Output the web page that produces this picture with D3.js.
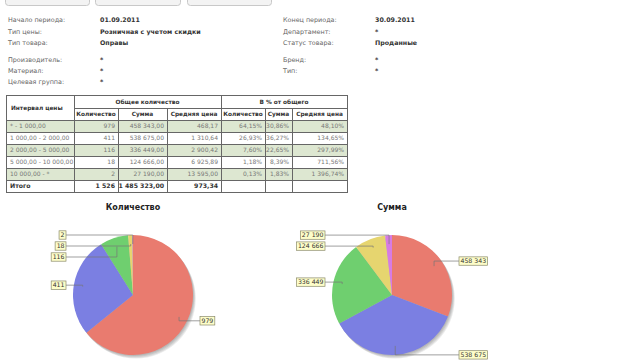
<!DOCTYPE html>
<html>
<head>
<meta charset="utf-8">
<script src="https://cdn.jsdelivr.net/npm/d3@7"></script>
<style>
  body { margin: 0; background: #fff; }
  svg { display: block; font-family: "DejaVu Sans", Verdana, sans-serif; }
</style>
</head>
<body>
<div id="chart"></div>
<script>
// report parameters
const leftLabels = ['Начало периода:', 'Тип цены:', 'Тип товара:', 'Производитель:', 'Материал:', 'Целевая группа:'];
const leftValues = ['01.09.2011', 'Розничная с учетом скидки', 'Оправы', '*', '*', '*'];
const rightLabels = ['Конец периода:', 'Департамент:', 'Статус товара:', 'Бренд:', 'Тип:'];
const rightValues = ['30.09.2011', '*', 'Проданные', '*', '*'];

// table data
const intervals = ['* - 1 000,00', '1 000,00 - 2 000,00', '2 000,00 - 5 000,00', '5 000,00 - 10 000,00', '10 000,00 - *'];
const qty = [979, 411, 116, 18, 2];
const sums = [458343, 538675, 336449, 124666, 27190];
const avgPrice = [468.17, 1310.64, 2900.42, 6925.89, 13595.00];
const pctQty = [64.15, 26.93, 7.60, 1.18, 0.13];
const pctSum = [30.86, 36.27, 22.65, 8.39, 1.83];
const pctAvg = [48.10, 134.65, 297.99, 711.56, 1396.74];
const totalQty = 1526;
const totalSum = 1485323;
const totalAvg = 973.34;

const sliceColors = ['#e97b6f', '#7b7fe2', '#6fcf6f', '#e6d56f', '#d77be3'];

const ru = d3.formatLocale({ decimal: ',', thousands: '\u00a0', grouping: [3], currency: ['', ''] });
const fInt = ru.format(',d');
const fMoney = ru.format(',.2f');
const fPct = v => ru.format(',.2f')(v) + '%';

const svg = d3.select('#chart').append('svg')
    .attr('width', 640)
    .attr('height', 360);

// buttons at top (cut off)
[[5, 89], [95, 180], [187, 271]].forEach(b => {
    svg.append('rect')
        .attr('x', b[0] + 0.5).attr('y', -10.5)
        .attr('width', b[1] - b[0]).attr('height', 16)
        .attr('rx', 3)
        .style('fill', '#f3f3f3')
        .style('stroke', '#c8c8c8');
});

// header block
const rowY = [20, 31.5, 42.5, 60, 71, 82];
function paramBlock(labels, values, xl, xv) {
    labels.forEach((t, i) => {
        svg.append('text').attr('x', xl).attr('y', rowY[i]).attr('dy', '0.35em')
            .style('font-size', '6.4px').style('fill', '#666').text(t);
        svg.append('text').attr('x', xv).attr('y', rowY[i]).attr('dy', '0.35em')
            .style('font-size', '6.3px').style('font-weight', 'bold').style('fill', '#333').text(values[i]);
    });
}
paramBlock(leftLabels, leftValues, 8, 100);
paramBlock(rightLabels, rightValues, 283, 375);

// table
const cols = [6, 74, 118, 167, 221, 265, 292, 347];
const tTop = 95, h1 = 108, h2 = 120, rowH = 12;
const table = svg.append('g').attr('class', 'table');

const rows = intervals.map((d, i) => [d, fInt(qty[i]), fMoney(sums[i]), fMoney(avgPrice[i]),
    fPct(pctQty[i]), fPct(pctSum[i]), fPct(pctAvg[i])]);
rows.push(['Итого', fInt(totalQty), fMoney(totalSum), fMoney(totalAvg), '', '', '']);

rows.forEach((r, i) => {
    const y = h2 + i * rowH;
    table.append('rect')
        .attr('x', cols[0]).attr('y', y)
        .attr('width', cols[7] - cols[0]).attr('height', rowH)
        .style('fill', (i % 2 === 0 && i < 5) ? '#dde7d1' : '#fff');
    r.forEach((c, j) => {
        const isTotal = i === 5;
        table.append('text')
            .attr('x', j === 0 ? cols[0] + 4 : cols[j + 1] - 3)
            .attr('y', y + rowH / 2).attr('dy', '0.35em')
            .attr('text-anchor', j === 0 ? 'start' : 'end')
            .style('font-size', isTotal ? '6.2px' : '6px')
            .style('font-weight', isTotal ? 'bold' : 'normal')
            .style('fill', isTotal ? '#333' : '#777')
            .text(c);
    });
});

// header texts
function headText(t, x, y, anchor) {
    table.append('text').attr('x', x).attr('y', y).attr('dy', '0.35em')
        .attr('text-anchor', anchor || 'middle')
        .style('font-size', '5.8px').style('font-weight', 'bold').style('fill', '#333').text(t);
}
headText('Интервал цены', cols[0] + 5, (tTop + h2) / 2, 'start');
headText('Общее количество', (cols[1] + cols[4]) / 2, (tTop + h1) / 2);
headText('В % от общего', (cols[4] + cols[7]) / 2, (tTop + h1) / 2);
const subHeads = ['Количество', 'Сумма', 'Средняя цена', 'Количество', 'Сумма', 'Средняя цена'];
subHeads.forEach((t, j) => headText(t, (cols[j + 1] + cols[j + 2]) / 2, (h1 + h2) / 2));

// grid lines
const tBottom = h2 + rows.length * rowH;
const line = (x1, y1, x2, y2) => table.append('line')
    .attr('x1', x1).attr('y1', y1).attr('x2', x2).attr('y2', y2)
    .style('stroke', '#666').style('stroke-width', 1).style('shape-rendering', 'crispEdges');
line(cols[0], tTop + 0.5, cols[7], tTop + 0.5);
line(cols[1], h1 + 0.5, cols[7], h1 + 0.5);
for (let i = 0; i <= rows.length; i++) line(cols[0], h2 + i * rowH + 0.5, cols[7], h2 + i * rowH + 0.5);
cols.forEach((x, j) => {
    const top = (j === 0 || j === 1 || j === 4 || j === 7) ? tTop : h1;
    line(x + 0.5, top, x + 0.5, tBottom + 1);
});

// pies
const R = 60;
function drawPie(values, cx, cy, title) {
    const g = svg.append('g').attr('transform', `translate(${cx},${cy})`);
    svg.append('text').attr('x', cx).attr('y', 207).attr('dy', '0.35em')
        .attr('text-anchor', 'middle')
        .style('font-size', '8px').style('font-weight', 'bold').style('fill', '#222')
        .text(title);

    // shadow
    [4, 3, 2, 1].forEach(o => {
        g.append('circle').attr('cx', o * 0.7).attr('cy', o * 0.9).attr('r', R)
            .style('fill', '#000').style('opacity', 0.08);
    });

    const pie = d3.pie().sort(null).value(d => d);
    const arcs = pie(values);
    const arc = d3.arc().innerRadius(0).outerRadius(R);

    g.selectAll('path.slice')
        .data(arcs)
        .enter().append('path')
        .attr('class', 'slice')
        .attr('d', arc)
        .style('fill', (d, i) => sliceColors[i]);

    // labels
    const labels = arcs.map((d, i) => {
        const mid = (d.startAngle + d.endAngle) / 2;
        return {
            text: fInt(values[i]),
            side: mid < Math.PI ? 1 : -1,
            ax: Math.sin(mid) * R * 0.85,
            ay: -Math.cos(mid) * R * 0.85,
            y: -Math.cos(mid) * R
        };
    });
    [1, -1].forEach(side => {
        const group = labels.filter(l => l.side === side).sort((a, b) => a.y - b.y);
        for (let k = 1; k < group.length; k++) {
            if (group[k].y < group[k - 1].y + 11) group[k].y = group[k - 1].y + 11;
        }
    });

    labels.forEach(l => {
        const edge = l.side * (R + 7);
        g.append('polyline')
            .attr('points', [[edge, l.y], [l.ax, l.y], [l.ax, l.ay]].map(p => p.join(',')).join(' '))
            .style('fill', 'none').style('stroke', '#777').style('stroke-width', 0.7);
        const lg = g.append('g');
        const txt = lg.append('text')
            .attr('y', l.y).attr('dy', '0.35em')
            .style('font-size', '6.2px').style('fill', '#333')
            .text(l.text);
        const w = txt.node().getComputedTextLength();
        const bx = l.side > 0 ? edge : edge - w - 3;
        txt.attr('x', bx + 1.5);
        lg.insert('rect', 'text')
            .attr('x', bx).attr('y', l.y - 4.2)
            .attr('width', w + 3).attr('height', 8.4)
            .style('fill', '#fdfdc9').style('stroke', '#8a8a6a').style('stroke-width', 0.7);
    });
}

drawPie(qty, 133, 295, 'Количество');
drawPie(sums, 392, 295, 'Сумма');
</script>
</body>
</html>
